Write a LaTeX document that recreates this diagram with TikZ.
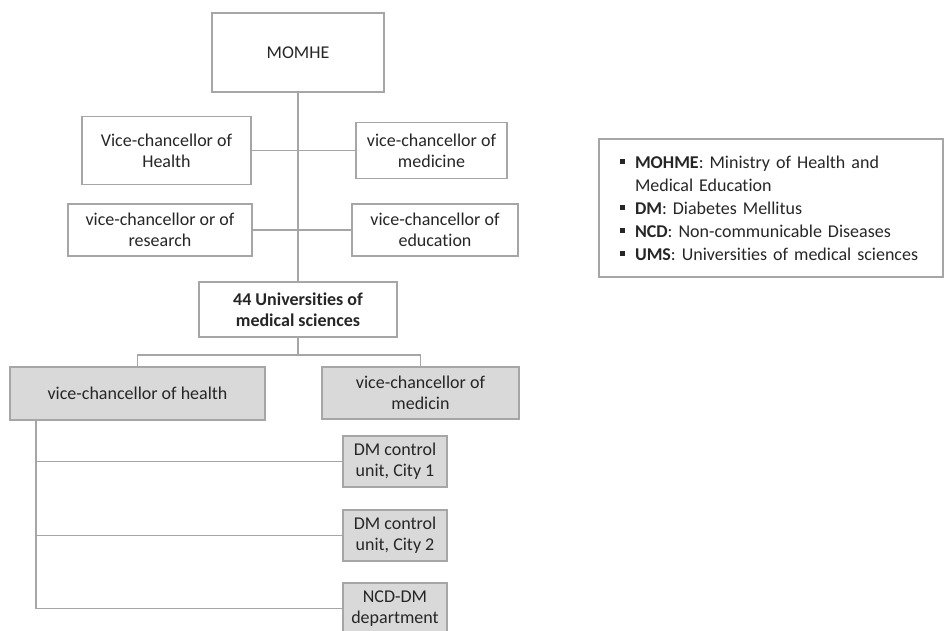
\documentclass[tikz,border=0pt]{standalone}
\usepackage{fontspec}
\setmainfont{Carlito}[Ligatures=CommonOff]
\usepackage{tikz}
\usetikzlibrary{positioning}
\usepackage{xcolor}
\definecolor{linegray}{HTML}{A6A6A6}
\definecolor{boxgray}{HTML}{D9D9D9}
\definecolor{textdark}{HTML}{262626}
\newcommand{\sqbullet}{\makebox[15pt][l]{\rule[4pt]{5pt}{5pt}}}

\begin{document}
\begin{tikzpicture}[
        x=1pt, y=-1pt,
        every node/.style={font=\fontsize{18}{21}\selectfont, text=textdark},
        unit/.style={draw=linegray, line width=1.3pt, fill=white, align=center, inner sep=0pt},
        shaded/.style={unit, fill=boxgray},
        link/.style={draw=linegray, line width=1.3pt}
    ]
        \useasboundingbox (0,0) rectangle (945,630);

        % Ministry at the top
        \node[unit, minimum width=172pt, minimum height=79pt] (momhe) at (298,52.5) {MOMHE};

        % vice-chancellors of the ministry
        \node[unit, minimum width=169pt, minimum height=68pt] (vhealth) at (166.5,150.5) {Vice-chancellor of\\Health};
        \node[unit, minimum width=151pt, minimum height=56pt] (vmed) at (431.5,150.5) {vice-chancellor of\\medicine};
        \node[unit, minimum width=184pt, minimum height=52pt] (vres) at (160,230) {vice-chancellor or of\\research};
        \node[unit, minimum width=166pt, minimum height=52pt] (vedu) at (435,230) {vice-chancellor of\\education};

        % Universities
        \node[unit, minimum width=198pt, minimum height=55pt, font=\fontsize{18}{21}\selectfont\bfseries] (univ) at (298,309.5) {44 Universities of\\medical sciences};

        % vice-chancellors of the universities - grey
        \node[shaded, minimum width=255pt, minimum height=53pt] (hhealth) at (137.5,393.5) {vice-chancellor of health};
        \node[shaded, minimum width=197pt, minimum height=52pt] (hmed) at (420.5,393) {vice-chancellor of\\medicin};

        % units under health
        \node[shaded, minimum width=104pt, minimum height=51pt] (city1) at (395,461.5) {DM control\\unit, City 1};
        \node[shaded, minimum width=104pt, minimum height=51pt] (city2) at (395,535.5) {DM control\\unit, City 2};
        \node[shaded, minimum width=104pt, minimum height=51pt] (ncd) at (395,608.5) {NCD-DM\\department};

        % spine and branches
        \draw[link] (momhe.south) -- (univ.north);
        \draw[link] (vhealth.east) -- (vhealth.east -| momhe.south) -- (vmed.west);
        \draw[link] (vres.east) -- (vres.east -| momhe.south) -- (vedu.west);

        \coordinate (fork) at (298,355);
        \draw[link] (univ.south) -- (fork);
        \draw[link] (hhealth.north) |- (fork) -| (hmed.north);

        % rail on the left
        \coordinate (rail) at (36,420);
        \draw[link] (rail) |- (ncd.west);
        \draw[link] (city1.west) -- (city1.west -| rail);
        \draw[link] (city2.west) -- (city2.west -| rail);

        % legend
        \node[draw=linegray, line width=1.3pt, align=left, text width=302pt, inner xsep=21pt, inner ysep=0pt,
              minimum height=138pt, font=\fontsize{18}{23}\selectfont] (legend) at (771,208)
            {\sqbullet\textbf{MOHME}: Ministry of Health and\\
             \hspace*{15pt}Medical Education\\
             \sqbullet\textbf{DM}: Diabetes Mellitus\\
             \sqbullet\textbf{NCD}: Non-communicable Diseases\\
             \sqbullet\textbf{UMS}: Universities of medical sciences};

    \end{tikzpicture}
\end{document}
